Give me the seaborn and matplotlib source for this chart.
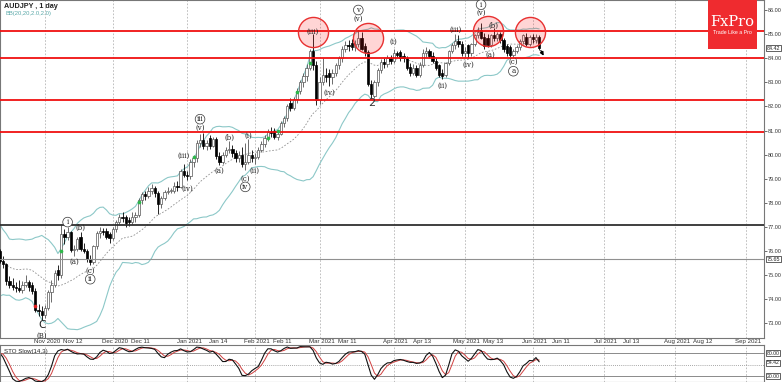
import numpy as np
import pandas as pd
import matplotlib
matplotlib.use("Agg")
import matplotlib.pyplot as plt
from matplotlib.patches import Rectangle
from matplotlib.transforms import blended_transform_factory as blend
import seaborn as sns

sns.set_style("white")
plt.rcParams['font.family'] = ['Liberation Sans', 'DejaVu Sans']

# ---------------- data ----------------
start_date = "2020-09-14"
open_ = [
    77.30, 77.20, 77.30, 77.00, 76.70, 76.80, 75.70, 75.20, 74.50, 74.40, 74.30, 74.90, 75.10,
    75.60, 75.60, 75.20, 75.90, 75.50, 75.90, 76.10, 76.30, 76.00, 75.60, 75.45, 74.75, 74.60, 74.50, 74.45,
    74.40, 74.60, 74.70, 74.60, 74.35, 73.55, 73.50,
    73.35, 73.65, 74.30, 74.60, 75.20, 75.00, 76.70, 76.60, 76.80, 76.05, 76.10, 76.60, 76.10, 76.00, 75.65,
    75.55, 76.20, 76.75, 76.85, 76.85, 76.70,
    76.55, 76.90, 77.20, 77.40, 77.40, 77.30, 77.20, 77.40, 77.50, 78.10, 78.35, 78.30, 78.50, 78.60, 78.40,
    77.95, 78.20, 78.45, 78.50, 78.50, 78.70, 78.65, 79.30,
    79.15, 79.10, 79.70, 79.85, 80.50, 80.60, 80.35, 80.70, 80.35, 80.65, 79.95, 79.70, 80.00, 80.20, 80.25,
    80.05, 79.85, 80.00, 79.60, 79.70, 80.00,
    79.85, 79.90, 80.20, 80.45, 80.70, 80.95, 81.00, 80.75, 80.85, 81.30, 81.50, 82.15, 81.95, 82.30, 82.65,
    83.00, 83.25, 83.60, 84.30, 83.70,
    82.25, 83.00, 83.30, 83.40, 83.20, 83.40, 83.70, 84.00, 84.40, 84.55, 84.65, 84.45, 84.60, 84.85, 84.50,
    84.25, 82.95, 82.45, 83.00, 83.50, 83.85, 83.75, 84.00,
    83.90, 84.20, 84.25, 84.10, 84.00, 83.65, 83.40, 83.60, 83.30, 83.70, 84.20, 84.30, 84.10, 83.90, 83.70,
    83.40, 83.30, 83.80, 84.30, 84.55, 84.70, 84.60,
    84.20, 84.55, 84.20, 84.60, 84.95, 85.15, 84.90, 84.85, 84.55, 84.95, 84.85, 85.00, 84.75, 84.50, 84.45,
    84.15, 84.30, 84.45, 84.70, 84.90, 84.60,
    84.90, 84.75, 84.90,
]
high_ = [
    77.55, 77.60, 77.50, 77.10, 77.00, 76.85, 75.95, 75.40, 74.75, 74.60, 75.00, 75.25, 75.70,
    75.90, 75.70, 76.00, 76.20, 76.00, 76.20, 76.45, 76.40, 76.10, 75.80, 75.50, 74.95, 74.90, 74.70, 74.80,
    74.75, 75.00, 74.80, 74.70, 74.45, 73.80, 73.70,
    73.75, 74.40, 74.80, 75.20, 75.40, 77.10, 76.90, 77.00, 76.85, 76.25, 76.60, 76.80, 76.35, 76.10, 75.85,
    76.25, 76.85, 77.00, 76.95, 76.95, 76.80,
    77.00, 77.30, 77.55, 77.60, 77.50, 77.40, 77.60, 77.60, 78.20, 78.45, 78.50, 78.65, 78.80, 78.70, 78.50,
    78.30, 78.55, 78.65, 78.60, 78.85, 78.90, 79.40, 79.60,
    79.30, 79.80, 80.00, 80.60, 80.85, 80.90, 80.60, 80.80, 80.75, 80.75, 80.10, 80.10, 80.30, 80.55, 80.40,
    80.20, 80.15, 80.30, 80.50, 80.65, 80.20,
    80.05, 80.30, 80.55, 80.80, 81.05, 81.15, 81.10, 81.00, 81.40, 81.60, 82.10, 82.35, 82.40, 82.75, 83.10,
    83.40, 83.75, 84.40, 85.00, 83.90,
    83.20, 84.00, 83.60, 83.55, 83.55, 83.80, 84.10, 84.50, 84.70, 84.75, 84.80, 84.75, 85.15, 85.10, 84.65,
    84.35, 83.10, 83.10, 83.60, 83.95, 84.00, 84.15, 84.15,
    84.40, 84.30, 84.35, 84.20, 84.10, 83.80, 83.75, 83.70, 83.85, 84.40, 84.45, 84.40, 84.25, 84.00, 83.75,
    83.55, 83.85, 84.35, 84.65, 85.00, 84.95, 84.70,
    84.45, 84.60, 84.65, 85.00, 85.30, 85.45, 85.05, 85.00, 85.00, 85.25, 85.10, 85.10, 84.85, 84.60, 84.55,
    84.40, 84.55, 84.80, 85.00, 85.05, 84.95,
    85.00, 85.00, 84.95,
]
low_ = [
    77.05, 77.00, 76.90, 76.40, 76.55, 75.50, 75.05, 74.40, 74.05, 74.00, 74.20, 74.70, 74.95,
    75.40, 74.95, 75.15, 75.40, 75.30, 75.80, 75.95, 75.90, 75.50, 75.30, 74.60, 74.45, 74.40, 74.30, 74.30,
    74.25, 74.50, 74.35, 74.20, 73.45, 73.30, 73.15,
    73.20, 73.55, 73.90, 74.50, 74.80, 74.90, 76.30, 76.45, 75.95, 75.80, 76.00, 76.00, 75.90, 75.55, 75.40,
    75.45, 76.10, 76.55, 76.65, 76.50, 76.35,
    76.45, 76.80, 77.10, 77.20, 77.00, 77.05, 77.10, 77.20, 77.40, 77.95, 78.10, 78.20, 78.35, 78.25, 77.55,
    77.80, 78.10, 78.35, 78.40, 78.40, 78.50, 78.60, 79.05,
    78.95, 79.00, 79.50, 79.70, 80.30, 80.25, 80.20, 80.25, 80.30, 79.80, 79.55, 79.60, 79.90, 80.05, 79.90,
    79.70, 79.70, 79.50, 79.35, 79.60, 79.70,
    79.60, 79.80, 80.10, 80.30, 80.55, 80.75, 80.65, 80.60, 80.80, 81.15, 81.40, 81.80, 81.85, 82.15, 82.50,
    82.80, 83.05, 83.50, 83.50, 82.05,
    82.10, 82.90, 83.00, 82.85, 82.95, 83.25, 83.55, 83.85, 84.25, 84.30, 84.35, 84.30, 84.45, 84.35, 84.10,
    82.85, 82.35, 82.35, 82.85, 83.40, 83.60, 83.65, 83.75,
    83.80, 84.05, 83.90, 83.85, 83.50, 83.25, 83.30, 83.20, 83.20, 83.65, 84.05, 84.00, 83.80, 83.50, 83.20,
    83.15, 83.20, 83.70, 84.20, 84.40, 84.45, 84.10,
    84.05, 84.00, 84.10, 84.50, 84.85, 84.80, 84.40, 84.45, 84.45, 84.70, 84.70, 84.65, 84.25, 84.10, 84.05,
    84.05, 84.20, 84.35, 84.60, 84.50, 84.50,
    84.65, 84.65, 84.35,
]
close_ = [
    77.20, 77.30, 77.00, 76.70, 76.80, 75.70, 75.20, 74.50, 74.40, 74.30, 74.90, 75.10, 75.60,
    75.60, 75.20, 75.90, 75.50, 75.90, 76.10, 76.30, 76.00, 75.60, 75.45, 74.75, 74.60, 74.50, 74.45, 74.40,
    74.60, 74.70, 74.50, 74.35, 73.55, 73.50, 73.35,
    73.65, 74.30, 74.60, 75.10, 75.00, 76.70, 76.60, 76.80, 76.05, 76.10, 76.50, 76.10, 76.00, 75.65, 75.55,
    76.20, 76.75, 76.85, 76.80, 76.60, 76.55,
    76.90, 77.20, 77.40, 77.35, 77.15, 77.20, 77.40, 77.50, 78.10, 78.35, 78.30, 78.50, 78.60, 78.40, 77.95,
    78.20, 78.45, 78.50, 78.50, 78.70, 78.65, 79.30, 79.15,
    79.10, 79.70, 79.85, 80.50, 80.60, 80.35, 80.50, 80.35, 80.65, 79.95, 79.70, 80.00, 80.20, 80.25, 80.05,
    79.85, 80.00, 79.60, 79.70, 80.00, 79.85,
    79.90, 80.20, 80.45, 80.70, 80.95, 80.90, 80.75, 80.85, 81.30, 81.50, 82.00, 81.95, 82.30, 82.65, 83.00,
    83.25, 83.60, 84.30, 83.70, 82.25,
    83.00, 83.30, 83.20, 83.20, 83.40, 83.70, 84.00, 84.40, 84.55, 84.50, 84.45, 84.60, 84.85, 84.40, 84.25,
    82.95, 82.50, 83.00, 83.50, 83.85, 83.75, 84.00, 83.90,
    84.20, 84.15, 84.00, 84.00, 83.60, 83.40, 83.60, 83.30, 83.70, 84.20, 84.30, 84.10, 83.90, 83.60, 83.30,
    83.25, 83.80, 84.30, 84.55, 84.70, 84.60, 84.20,
    84.30, 84.20, 84.60, 84.95, 85.10, 84.85, 84.50, 84.55, 84.95, 84.85, 85.00, 84.75, 84.40, 84.20, 84.15,
    84.30, 84.45, 84.70, 84.95, 84.60, 84.90,
    84.80, 84.90, 84.42,
]

red_levels = [85.13, 84.00, 82.27, 80.95]
black_level = 77.07
gray_level = 75.65
last_price = 84.42
sto_levels = [80.00, 54.42, 20.00]

circle_dates = ["2021-02-25", "2021-03-22", "2021-05-12", "2021-05-31"]
circle_prices = [85.08, 84.83, 85.12, 85.08]

green_dot_dates = ["2020-11-09", "2020-12-11", "2021-01-05", "2021-02-05",
                   "2021-02-10", "2021-02-18", "2021-02-24"]
green_dot_prices = [76.00, 78.02, 79.90, 80.70, 81.00, 82.60, 83.80]
red_dot_dates = ["2020-10-28"]
red_dot_prices = [73.73]

wave_texts = ["C", "(B)", "i", "(a)", "(b)", "(c)", "ii",
              "(iii)", "(iv)", "iii", "(v)",
              "(a)", "(b)", "(c)", "iv", "(i)", "(ii)",
              "(iii)", "(iv)", "v", "(v)", "(i)", "(ii)", "(iii)", "(iv)",
              "i", "(v)", "(a)", "(b)", "(c)", "a"]
wave_dates = ["2020-10-30", "2020-10-30", "2020-11-11", "2020-11-13", "2020-11-17", "2020-11-20", "2020-11-20",
              "2020-12-31", "2021-01-01", "2021-01-07", "2021-01-07",
              "2021-01-15", "2021-01-20", "2021-01-27", "2021-01-27", "2021-01-28", "2021-02-01",
              "2021-02-25", "2021-03-04", "2021-03-17", "2021-03-17", "2021-04-01", "2021-04-22",
              "2021-04-28", "2021-05-04",
              "2021-05-10", "2021-05-10", "2021-05-13", "2021-05-14", "2021-05-24", "2021-05-24"]
wave_prices = [72.95, 72.50, 77.20, 75.57, 76.95, 75.16, 74.83,
               79.93, 78.60, 81.47, 81.10,
               79.32, 80.69, 78.99, 78.66, 80.77, 79.32,
               85.08, 82.55, 86.00, 85.62, 84.66, 82.84, 85.17, 83.72,
               86.22, 85.88, 84.13, 85.33, 83.83, 83.46]
wave_circled = [False, False, True, False, False, False, True,
                False, False, True, False,
                False, False, False, True, False, False,
                False, False, True, False, False, False, False, False,
                True, False, False, False, False, True]
wave2_date, wave2_price = "2021-03-23", 82.13

tick_dates = ["2020-11-02", "2020-11-12", "2020-12-01", "2020-12-11", "2021-01-01", "2021-01-14",
              "2021-02-01", "2021-02-11", "2021-03-01", "2021-03-11", "2021-04-01", "2021-04-13",
              "2021-05-03", "2021-05-13", "2021-06-01", "2021-06-11", "2021-07-01", "2021-07-13",
              "2021-08-02", "2021-08-12", "2021-09-01"]
tick_labels = ["Nov 2020", "Nov 12", "Dec 2020", "Dec 11", "Jan 2021", "Jan 14",
               "Feb 2021", "Feb 11", "Mar 2021", "Mar 11", "Apr 2021", "Apr 13",
               "May 2021", "May 13", "Jun 2021", "Jun 11", "Jul 2021", "Jul 13",
               "Aug 2021", "Aug 12", "Sep 2021"]
month_starts = ["2020-11-02", "2020-12-01", "2021-01-01", "2021-02-01", "2021-03-01", "2021-04-01",
                "2021-05-03", "2021-06-01", "2021-07-01", "2021-08-02", "2021-09-01"]

# ---------------- frame ----------------
df = pd.DataFrame({"open": open_, "high": high_, "low": low_, "close": close_})
all_days = pd.bdate_range(start_date, "2021-10-29")
df["date"] = all_days[:len(df)]
df["pos"] = np.arange(len(df))
day_pos = {d.strftime("%Y-%m-%d"): i for i, d in enumerate(all_days)}


def P(d):
    return day_pos[d]


# Bollinger (20, 2)
mid = df["close"].rolling(20).mean()
sd = df["close"].rolling(20).std(ddof=0)
df["bb_mid"], df["bb_up"], df["bb_lo"] = mid, mid + 2 * sd, mid - 2 * sd
# Stochastic slow (14,3,3)
ll = df["low"].rolling(14).min()
hh = df["high"].rolling(14).max()
df["sto"] = 100 * (df["close"] - ll).rolling(3).sum() / (hh - ll).rolling(3).sum()
df["sig"] = df["sto"].rolling(3).mean()

W, H = 782, 382
fig = plt.figure(figsize=(W / 100, H / 100), dpi=100)
ax = fig.add_axes([0, (H - 338) / H, 764 / W, 338 / H])
axs = fig.add_axes([0, 0, 764 / W, (H - 345) / H])

x0 = P("2020-11-02")
ppb = 3.23
xl = (x0 - 45 / ppb, x0 + (764 - 45) / ppb)

# gridlines
for a in (ax, axs):
    for m in month_starts:
        a.axvline(P(m), color="#b5b5b5", lw=0.6, ls=(0, (2, 2)), zorder=0)

# candles
up = df["close"] >= df["open"]
ax.vlines(df["pos"], df["low"], df["high"], colors=np.where(up, "#555555", "#000000"), lw=0.6, zorder=3)
body = (df["close"] - df["open"]).abs().clip(lower=0.02)
bot = df[["open", "close"]].min(axis=1)
ax.bar(df["pos"][up], body[up], bottom=bot[up], width=0.72, color="white", edgecolor="#555555",
       linewidth=0.5, zorder=4)
ax.bar(df["pos"][~up], body[~up], bottom=bot[~up], width=0.72, color="black", edgecolor="black",
       linewidth=0.5, zorder=4)

# bollinger
bb = df.dropna(subset=["bb_mid"])
sns.lineplot(x=bb["pos"], y=bb["bb_up"], ax=ax, color="#8cc8c8", lw=0.8, estimator=None, zorder=2)
sns.lineplot(x=bb["pos"], y=bb["bb_lo"], ax=ax, color="#8cc8c8", lw=0.8, estimator=None, zorder=2)
sns.lineplot(x=bb["pos"], y=bb["bb_mid"], ax=ax, color="#909090", lw=0.6, ls=(0, (2, 2)),
             estimator=None, zorder=2)

# levels
for lv in red_levels:
    ax.axhline(lv, color="#f01010", lw=1.3, zorder=5)
ax.axhline(black_level, color="#303030", lw=1.3, zorder=5)
ax.axhline(gray_level, color="#909090", lw=0.8, zorder=5)

# markers
ax.scatter([P(d) for d in green_dot_dates], green_dot_prices, s=7, color="#2db84a", zorder=6, lw=0)
ax.scatter([P(d) for d in red_dot_dates], red_dot_prices, s=7, color="#e02020", zorder=6, lw=0)
ax.scatter([P(d) for d in circle_dates], circle_prices, s=470, facecolor=(1, 0.1, 0.1, 0.18),
           edgecolor="#e83030", lw=1.0, zorder=7)

# wave labels
for t, d, p, c in zip(wave_texts, wave_dates, wave_prices, wave_circled):
    kw = {}
    if c:
        kw["bbox"] = dict(boxstyle="circle,pad=0.12", fc="white", ec="#333333", lw=0.5)
    ax.text(P(d), p, t, fontsize=5.0 if t != "C" else 7.5, ha="center", va="center",
            color="#222222", zorder=8, family=["DejaVu Serif"] if t != "C" else ["DejaVu Sans"], **kw)
ax.text(P(wave2_date), wave2_price, "2", fontsize=8, ha="center", va="center", color="#333333", zorder=8,
        family=["DejaVu Sans"])

ax.annotate("", xy=(P("2021-06-03") + 1.8, 84.0), xytext=(P("2021-06-03") + 0.1, 84.42),
            arrowprops=dict(arrowstyle="-|>", color="black", lw=0.9, mutation_scale=5), zorder=9)

ax.set_xlim(*xl)
ax.set_ylim(72.39, 86.415)
ax.set_xticks([])
ax.yaxis.tick_right()
ax.set_yticks(range(73, 87))
ax.set_yticklabels([f"{v:.2f}" for v in range(73, 87)])
ax.tick_params(axis="y", labelsize=4.0, colors="#333333", length=2, pad=1.0, width=0.5)
ax.set_xlabel("")
ax.set_ylabel("")
for s in ax.spines.values():
    s.set_color("#777777")
    s.set_linewidth(0.8)

tr = blend(ax.transAxes, ax.transData)
for val, txt in ((last_price, f"{last_price:.2f}"), (gray_level, f"{gray_level:.2f}")):
    ax.text(1.0035, val, txt, transform=tr, fontsize=3.9, va="center", ha="left", color="#222222",
            bbox=dict(boxstyle="square,pad=0.1", fc="white", ec="#222222", lw=0.5), clip_on=False, zorder=10)

# stochastic panel
st = df.dropna(subset=["sig"])
axs.axhline(80, color="#8a8a8a", lw=0.7)
axs.axhline(20, color="#8a8a8a", lw=0.7)
axs.axhline(50, color="#8a8a8a", lw=0.6, ls=(0, (1, 1.5)))
sns.lineplot(x=st["pos"], y=st["sig"], ax=axs, color="#d04040", lw=0.7, estimator=None)
sns.lineplot(x=st["pos"], y=st["sto"], ax=axs, color="#111111", lw=0.8, estimator=None)
axs.set_xlim(*xl)
axs.set_ylim(4.35, 100.9)
axs.set_xticks([])
axs.set_yticks([])
axs.set_xlabel("")
axs.set_ylabel("")
for s in axs.spines.values():
    s.set_color("#777777")
    s.set_linewidth(0.8)
trs = blend(axs.transAxes, axs.transData)
for val in sto_levels:
    axs.text(1.0035, val, f"{val:.2f}", transform=trs, fontsize=3.7, va="center", ha="left", color="#222222",
             bbox=dict(boxstyle="square,pad=0.08", fc="white", ec="#222222", lw=0.5), clip_on=False)
fig.text(4 / W, (H - 352) / H, "STO Slow(14,3)", fontsize=4.4, color="#222222", va="center")

# date labels
trd = blend(ax.transData, fig.transFigure)
for d, lab in zip(tick_dates, tick_labels):
    ax.text(P(d) + 0.6, (H - 341.5) / H, lab, transform=trd, fontsize=4.4, color="#333333",
            ha="center", va="center", clip_on=False)

# titles
fig.text(4 / W, 1 - 6 / H, "AUDJPY , 1 day", fontsize=5.2, fontweight="bold", color="#222222", va="center")
fig.text(5 / W, 1 - 13.5 / H, "BB(20,20,2.0,2.0)", fontsize=4.2, color="#5aa8a8", va="center")

# logo
fig.patches.append(Rectangle((708 / W, 1 - 49 / H), 49 / W, 49 / H, transform=fig.transFigure,
                             facecolor="#ef2b2f", edgecolor="none", zorder=20))
fig.text(732.5 / W, 1 - 22 / H, "FxPro", fontsize=10.5, family=["DejaVu Serif"], color="white",
         ha="center", va="center", zorder=21)
fig.text(732.5 / W, 1 - 32.5 / H, "Trade Like a Pro", fontsize=3.8, color="white",
         ha="center", va="center", zorder=21)

fig.savefig("out.png", dpi=100)
